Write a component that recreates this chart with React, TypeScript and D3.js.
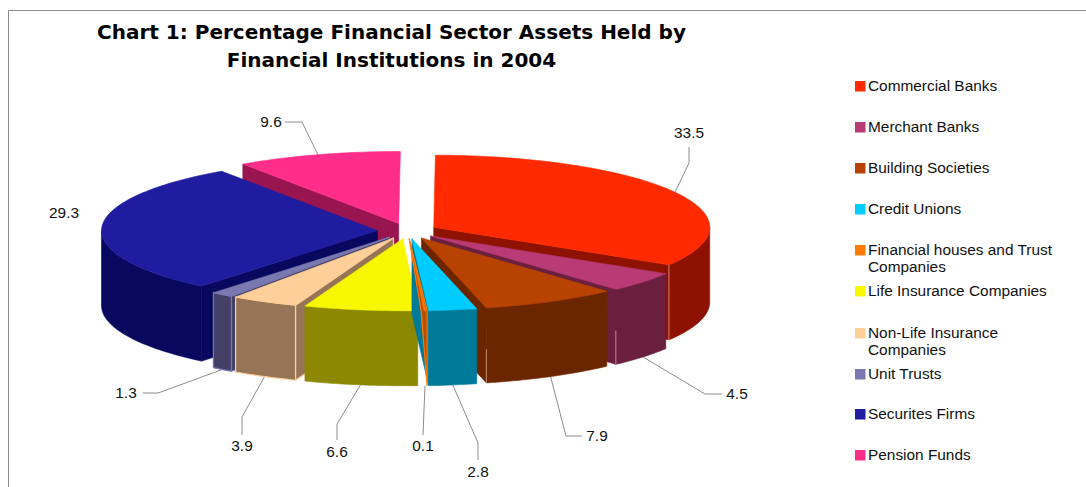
import React from "react";
import * as d3 from "d3";

const WIDTH = 1086;
const HEIGHT = 487;

const titleLines = [
  "Chart 1: Percentage Financial Sector Assets Held by",
  "Financial Institutions in 2004",
];

const categories = [
  "Commercial Banks",
  "Merchant Banks",
  "Building Societies",
  "Credit Unions",
  "Financial houses and Trust Companies",
  "Life Insurance Companies",
  "Non-Life Insurance Companies",
  "Unit Trusts",
  "Securites Firms",
  "Pension Funds",
];
const shares = [33.5, 4.5, 7.9, 2.8, 0.1, 6.6, 3.9, 1.3, 29.3, 9.6];

const topColors = ["#ff2a00", "#b83b75", "#b84300", "#00ccff", "#ff7a00", "#f7f700", "#ffcf99", "#7a78b0", "#1f1ca0", "#ff2e8a"];
const wallColors = ["#8f1200", "#6b1f3f", "#6b2600", "#007a99", "#b34f00", "#8c8800", "#967556", "#443f66", "#08085e", "#991550"];
const edgeColors = [null, null, null, null, "#ff7a00", null, "#ffcf99", "#7a78b0", null, null];

// where each value label sits, and the elbow of its leader line (null = no leader)
const labelSpots: [number, number][] = [[689, 133], [737, 394], [597, 436], [478, 472], [423, 446], [337, 452], [242, 446], [126, 393], [64, 213], [271, 122]];
const leaderBends: ([number, number][] | null)[] = [
  [[689, 163], [689, 147]],
  [[705, 394], [722, 394]],
  [[566, 436], [582, 436]],
  [[478, 443], [478, 460]],
  [[423, 435]],
  [[337, 424], [337, 440]],
  [[242, 417], [242, 435]],
  [[158, 393], [143, 393]],
  null,
  [[302, 122], [285, 122]],
];
const legendRows = [86, 127, 168, 209, 250, 291, 333, 374, 414, 455];
const legendWraps: Record<number, string[]> = {
  4: ["Financial houses and Trust", "Companies"],
  6: ["Non-Life Insurance", "Companies"],
};

// pie projected as a flat ellipse
const cx = 407.5;
const cy = 231;
const rx = 276;
const ry = 72;
const depth = 75;
const explode = 30 / rx;
const rotation = 0.006; // first slice starts just past 12 o'clock

const xScale = d3.scaleLinear().domain([-1, 1]).range([cx - rx, cx + rx]);
const yScale = d3.scaleLinear().domain([-1, 1]).range([cy - ry, cy + ry]);
const outline = d3.line<[number, number]>();

const slices = d3
  .pie<number>()
  .sort(null)
  .startAngle(rotation)
  .endAngle(2 * Math.PI + rotation)(shares);

type Pt = [number, number];

function sliceGeometry(start: number, end: number) {
  const mid = (start + end) / 2;
  const ox = explode * Math.sin(mid);
  const oy = -explode * Math.cos(mid);
  const at = (a: number, r = 1): Pt => [
    xScale(ox + r * Math.sin(a)),
    yScale(oy - r * Math.cos(a)),
  ];
  const rim = (a0: number, a1: number): Pt[] => {
    const n = Math.max(2, Math.ceil(Math.abs(a1 - a0) / 0.02));
    return d3.range(n + 1).map((i) => at(a0 + ((a1 - a0) * i) / n));
  };
  return { mid, at, rim };
}

const lower = (p: Pt): Pt => [p[0], p[1] + depth];

function Slice({ index }: { index: number }) {
  const { startAngle, endAngle } = slices[index];
  const { at, rim } = sliceGeometry(startAngle, endAngle);
  const apex = at(0, 0);
  const top = [apex, ...rim(startAngle, endAngle)];
  const wall = wallColors[index];
  const edge = edgeColors[index] ?? wall;
  const wallPaths: string[] = [];
  const sliver = endAngle - startAngle < 0.02;

  // radial walls facing the viewer
  if (Math.sin(startAngle) < 0) {
    const p = at(startAngle);
    wallPaths.push(outline([apex, p, lower(p), lower(apex)]) + "Z");
  }
  if (endAngle < Math.PI) {
    const p = at(endAngle);
    // the hairline slice only shows a wedge of wall below its rim
    const ring: Pt[] = sliver
      ? [apex, [p[0] + 3, p[1]], [p[0] + 3, p[1] + depth], [p[0] - 3, p[1]]]
      : [apex, p, lower(p), lower(apex)];
    wallPaths.push(outline(ring) + "Z");
  }
  // curved wall, only the front half of the rim shows
  const a0 = Math.max(startAngle, Math.PI / 2);
  const a1 = Math.min(endAngle, (3 * Math.PI) / 2);
  if (a1 > a0 && !sliver) {
    const arc = rim(a0, a1);
    wallPaths.push(outline([...arc, ...arc.slice().reverse().map(lower)]) + "Z");
  }

  const corner = at(endAngle);
  const showSeam = index < 3;

  return (
    <g>
      {wallPaths.map((d, i) => (
        <path key={i} d={d} fill={wall} stroke={edge} strokeWidth={edgeColors[index] ? 1.2 : 0.6} strokeLinejoin="round" />
      ))}
      {showSeam && (
        <line
          x1={corner[0]}
          x2={corner[0]}
          y1={corner[1] + (index === 0 ? 0 : depth * 0.55)}
          y2={corner[1] + depth}
          stroke="#e8b0a8"
          strokeOpacity={0.7}
          strokeWidth={1}
        />
      )}
      <path d={outline(top) + "Z"} fill={topColors[index]} stroke={topColors[index]} strokeWidth={0.6} strokeLinejoin="round" />
    </g>
  );
}

function Leader({ index }: { index: number }) {
  const bends = leaderBends[index];
  if (!bends) return null;
  const { startAngle, endAngle } = slices[index];
  const { mid, at } = sliceGeometry(startAngle, endAngle);
  const p = at(mid);
  // leaders leave from the bottom of the rim on front slices, the top on back ones
  const start = Math.cos(mid) < 0 ? lower(p) : p;
  return <path d={outline([start, ...bends]) ?? ""} fill="none" stroke="#8c8c8c" strokeWidth={1} />;
}

export default function App() {
  // back slices first so the front ones overlap them
  const order = d3.range(slices.length).sort((a, b) => {
    const ma = (slices[a].startAngle + slices[a].endAngle) / 2;
    const mb = (slices[b].startAngle + slices[b].endAngle) / 2;
    return Math.cos(mb) - Math.cos(ma);
  });
  const labelFont = "'Liberation Sans', Arial, sans-serif";

  return (
    <svg
      width={WIDTH}
      height={HEIGHT}
      style={{ position: "absolute", left: 0, top: 0, display: "block", background: "#fff" }}
    >
      <path d={`M8.5,${HEIGHT}V10.5H${WIDTH}`} fill="none" stroke="#8a8a8a" strokeWidth={1} />

      {titleLines.map((t, i) => (
        <text
          key={t}
          x={391.5}
          y={39 + i * 28}
          textAnchor="middle"
          fontFamily="'DejaVu Sans', Verdana, sans-serif"
          fontWeight="bold"
          fontSize={20}
          fill="#000"
        >
          {t}
        </text>
      ))}

      {d3.range(slices.length).map((i) => (
        <Leader key={i} index={i} />
      ))}
      {order.map((i) => (
        <Slice key={i} index={i} />
      ))}

      {shares.map((v, i) => (
        <text
          key={i}
          x={labelSpots[i][0]}
          y={labelSpots[i][1] + 5}
          textAnchor="middle"
          fontFamily={labelFont}
          fontSize={15.4}
          fill="#111"
        >
          {d3.format(".1f")(v)}
        </text>
      ))}

      {categories.map((name, i) => (
        <g key={name} transform={`translate(855,${legendRows[i]})`}>
          <rect x={0} y={-5} width={10.5} height={10.5} fill={topColors[i]} />
          {(legendWraps[i] ?? [name]).map((line, j) => (
            <text key={line} x={13} y={5 + j * 17} fontFamily={labelFont} fontSize={15.4} fill="#111">
              {line}
            </text>
          ))}
        </g>
      ))}
    </svg>
  );
}
